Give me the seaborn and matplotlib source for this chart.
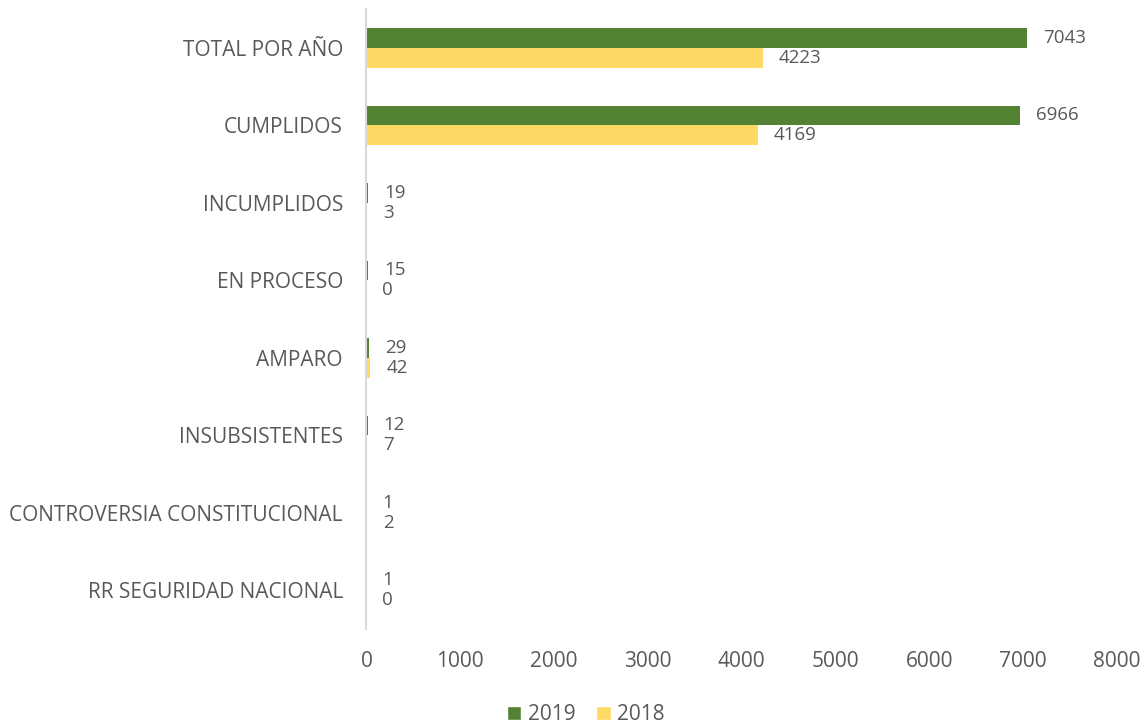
import matplotlib.pyplot as plt
import pandas as pd
import seaborn as sns
from matplotlib.patches import Patch

# Data
categories = [
    "TOTAL POR AÑO",
    "CUMPLIDOS",
    "INCUMPLIDOS",
    "EN PROCESO",
    "AMPARO",
    "INSUBSISTENTES",
    "CONTROVERSIA CONSTITUCIONAL",
    "RR SEGURIDAD NACIONAL",
]
values_2019 = [7043, 6966, 19, 15, 29, 12, 1, 1]
values_2018 = [4223, 4169, 3, 0, 42, 7, 2, 0]
years = ["2019", "2018"]
colors = {"2019": "#548235", "2018": "#FFD966"}
x_ticks = [0, 1000, 2000, 3000, 4000, 5000, 6000, 7000, 8000]

TEXT_GRAY = "#595959"

sns.set_style("white")
plt.rcParams["font.family"] = ["Open Sans", "DejaVu Sans"]

df = pd.DataFrame({
    "Categoria": categories * 2,
    "Valor": values_2019 + values_2018,
    "Año": [years[0]] * len(categories) + [years[1]] * len(categories),
})

fig = plt.figure(figsize=(11.46, 7.23), dpi=100)
ax = fig.add_axes([0.3198, 0.1300, 0.6549, 0.8575])

sns.barplot(
    data=df, y="Categoria", x="Valor", hue="Año", order=categories,
    hue_order=years, palette=colors, orient="h", width=0.51,
    saturation=1, linewidth=0, legend=False, ax=ax,
)

for container in ax.containers:
    ax.bar_label(container, padding=11.5, fontsize=13.5, color=TEXT_GRAY)

ax.set_xlim(0, 8000)
ax.set_ylim(len(categories) - 0.5, -0.5)
ax.set_xticks(x_ticks)
ax.set_xlabel("")
ax.set_ylabel("")
ax.tick_params(axis="x", labelsize=15, colors=TEXT_GRAY, length=0, pad=16)
ax.tick_params(axis="y", labelsize=15, colors=TEXT_GRAY, length=0, pad=17)

for side in ["top", "right", "bottom"]:
    ax.spines[side].set_visible(False)
ax.spines["left"].set_color("#D9D9D9")
ax.spines["left"].set_linewidth(1.5)

handles = [Patch(facecolor=colors[y], label=y) for y in years]
fig.legend(
    handles=handles, loc="lower center", bbox_to_anchor=(0.511, -0.029), ncol=2,
    frameon=False, fontsize=15, handlelength=0.7, handleheight=0.7,
    handletextpad=0.3, columnspacing=1.0, labelcolor=TEXT_GRAY,
)

fig.savefig("out.png", dpi=100)
plt.close(fig)
